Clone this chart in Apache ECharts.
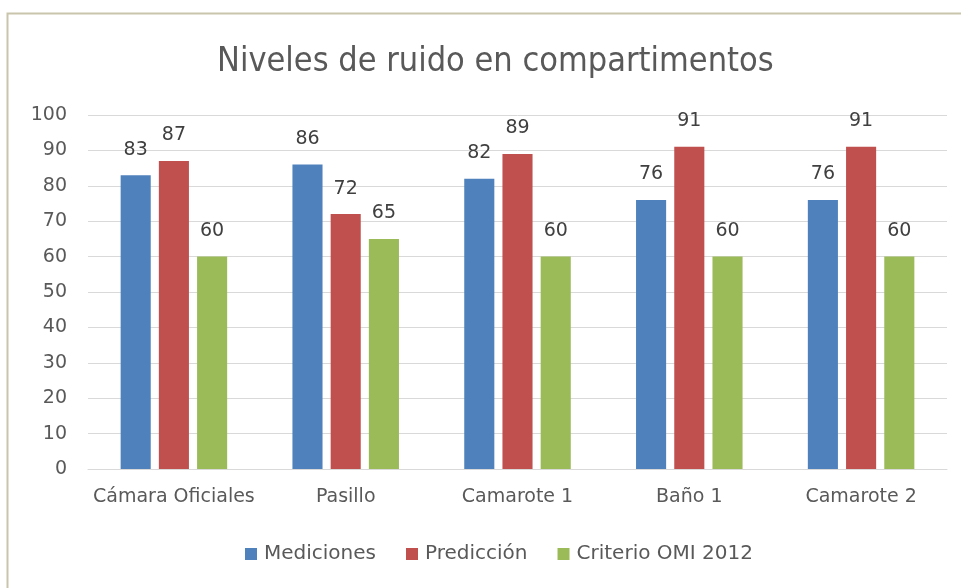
<!DOCTYPE html>
<html>
<head>
<meta charset="utf-8">
<script src="https://cdn.jsdelivr.net/npm/echarts@6/dist/echarts.min.js"></script>
<style>
  html, body { margin: 0; padding: 0; background: #fff; }
  #chart { width: 961px; height: 588px; }
</style>
</head>
<body>
<div id="chart"></div>
<script>
var categories = ['Cámara Oficiales', 'Pasillo', 'Camarote 1', 'Baño 1', 'Camarote 2'];
var mediciones = [83, 86, 82, 76, 76];
var prediccion = [87, 72, 89, 91, 91];
var criterio = [60, 65, 60, 60, 60];
var seriesNames = ['Mediciones', 'Predicción', 'Criterio OMI 2012'];
var colors = ['#4f81bd', '#c0504d', '#9bbb59'];

var font = 'DejaVu Sans';
var titleFont = 'DejaVu Sans Condensed';
var myChart = echarts.init(document.getElementById('chart'));

function makeSeries(name, data, color) {
    return {
        name: name,
        type: 'bar',
        data: data,
        barGap: '27%',
        barCategoryGap: '38%',
        itemStyle: { color: color },
        label: {
            show: true,
            position: 'top',
            distance: 16,
            color: '#404040',
            fontFamily: font,
            fontSize: 19
        }
    };
}

var option = {
    animation: false,
    color: colors,
    graphic: [{
        type: 'rect',
        shape: { x: 7.5, y: 13.5, width: 1000, height: 1000 },
        style: { fill: 'none', stroke: '#c9c4ac', lineWidth: 2 },
        silent: true
    }],
    title: {
        text: 'Niveles de ruido en compartimentos',
        left: 212,
        top: 40,
        textStyle: {
            fontFamily: titleFont,
            fontWeight: 'normal',
            fontSize: 34,
            color: '#595959'
        }
    },
    legend: {
        bottom: 19,
        left: 240,
        itemWidth: 12,
        itemHeight: 12,
        itemGap: 30,
        icon: 'rect',
        textStyle: { fontFamily: font, fontSize: 20, color: '#595959', padding: [0, 0, 0, 2] },
        data: seriesNames
    },
    grid: {
        left: 88,
        right: 14,
        top: 115,
        bottom: 119,
        containLabel: false
    },
    xAxis: {
        type: 'category',
        data: categories,
        axisLine: { lineStyle: { color: '#d9d9d9', width: 1 } },
        axisTick: { show: false },
        axisLabel: {
            interval: 0,
            margin: 19,
            fontFamily: font,
            fontSize: 19,
            color: '#595959'
        }
    },
    yAxis: {
        type: 'value',
        min: 0,
        max: 100,
        interval: 10,
        axisLine: { show: false },
        axisTick: { show: false },
        axisLabel: {
            margin: 21,
            fontFamily: font,
            fontSize: 19,
            color: '#595959'
        },
        splitLine: { lineStyle: { color: '#d9d9d9', width: 1 } }
    },
    series: [
        makeSeries(seriesNames[0], mediciones, colors[0]),
        makeSeries(seriesNames[1], prediccion, colors[1]),
        makeSeries(seriesNames[2], criterio, colors[2])
    ]
};

myChart.setOption(option);
</script>
</body>
</html>
